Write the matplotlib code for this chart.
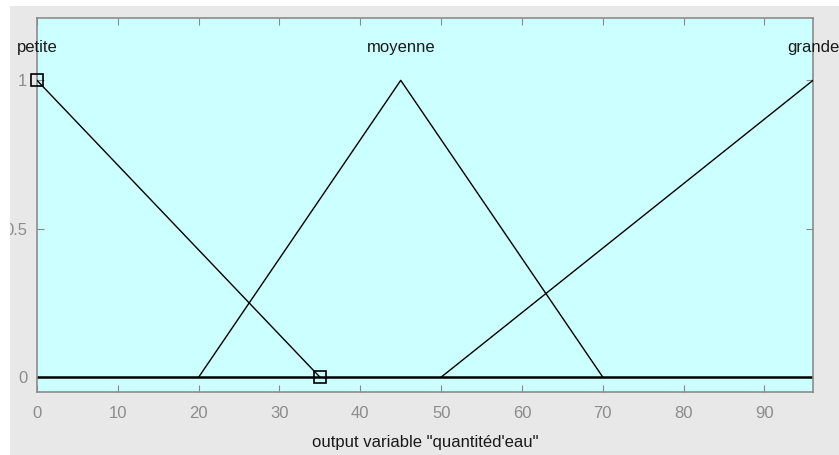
import matplotlib
matplotlib.use('Agg')
import matplotlib.pyplot as plt
from matplotlib.patches import Rectangle

# Membership functions of the output variable
x_min, x_max = 0, 96
petite_x = [0, 35]
petite_y = [1, 0]
moyenne_x = [20, 45, 70]
moyenne_y = [0, 1, 0]
grande_x = [50, 96]
grande_y = [0, 1]
mf_names = ['petite', 'moyenne', 'grande']
mf_label_x = [0, 45, 96]
x_ticks = [0, 10, 20, 30, 40, 50, 60, 70, 80, 90]
y_ticks = [0, 0.5, 1]
y_tick_labels = ['0', '0.5', '1']
marker_x = [0, 35]
marker_y = [1, 0]

plt.rcParams['font.family'] = ['Liberation Sans', 'DejaVu Sans']

fig = plt.figure(figsize=(8.39, 4.55), dpi=100)
fig.patch.set_facecolor('#e8e8e8')
ax = fig.add_axes([0.0441, 0.1385, 0.9249, 0.8219])
ax.set_facecolor('#ccffff')

ax.plot([x_min, x_max], [0, 0], color='black', lw=1.8, zorder=2)
ax.plot(petite_x, petite_y, color='black', lw=1, zorder=3)
ax.plot(moyenne_x, moyenne_y, color='black', lw=1, zorder=3)
ax.plot(grande_x, grande_y, color='black', lw=1, zorder=3)
ax.plot(marker_x, marker_y, ls='none', marker='s', ms=8.5, mfc='none',
        mec='black', mew=1.2, zorder=4, clip_on=False)

for name, lx in zip(mf_names, mf_label_x):
    ax.text(lx, 1.11, name, ha='center', va='center', fontsize=12,
            color='#1a1a1a', clip_on=False)

ax.set_xlim(x_min, x_max)
ax.set_ylim(-0.05, 1.21)
ax.set_xticks(x_ticks)
ax.set_yticks(y_ticks)
ax.set_yticklabels(y_tick_labels)
ax.tick_params(direction='in', length=5, color='#888888', labelcolor='#8c8c8c',
               labelsize=12, top=True, right=True)
ax.tick_params(axis='x', pad=10)
ax.tick_params(axis='y', pad=7)
for s in ax.spines.values():
    s.set_color('#8c8c8c')
    s.set_linewidth(1.2)

ax.set_xlabel('output variable "quantitéd\'eau"', fontsize=12, color='#1a1a1a', labelpad=10)

# white border of the screenshot crop
fig.patches.append(Rectangle((0, 0), 10 / 839, 1, transform=fig.transFigure,
                             facecolor='white', edgecolor='none', zorder=10))
fig.patches.append(Rectangle((0, 1 - 6 / 455), 1, 6 / 455, transform=fig.transFigure,
                             facecolor='white', edgecolor='none', zorder=10))

fig.savefig('out.png', dpi=100, facecolor=fig.get_facecolor())
